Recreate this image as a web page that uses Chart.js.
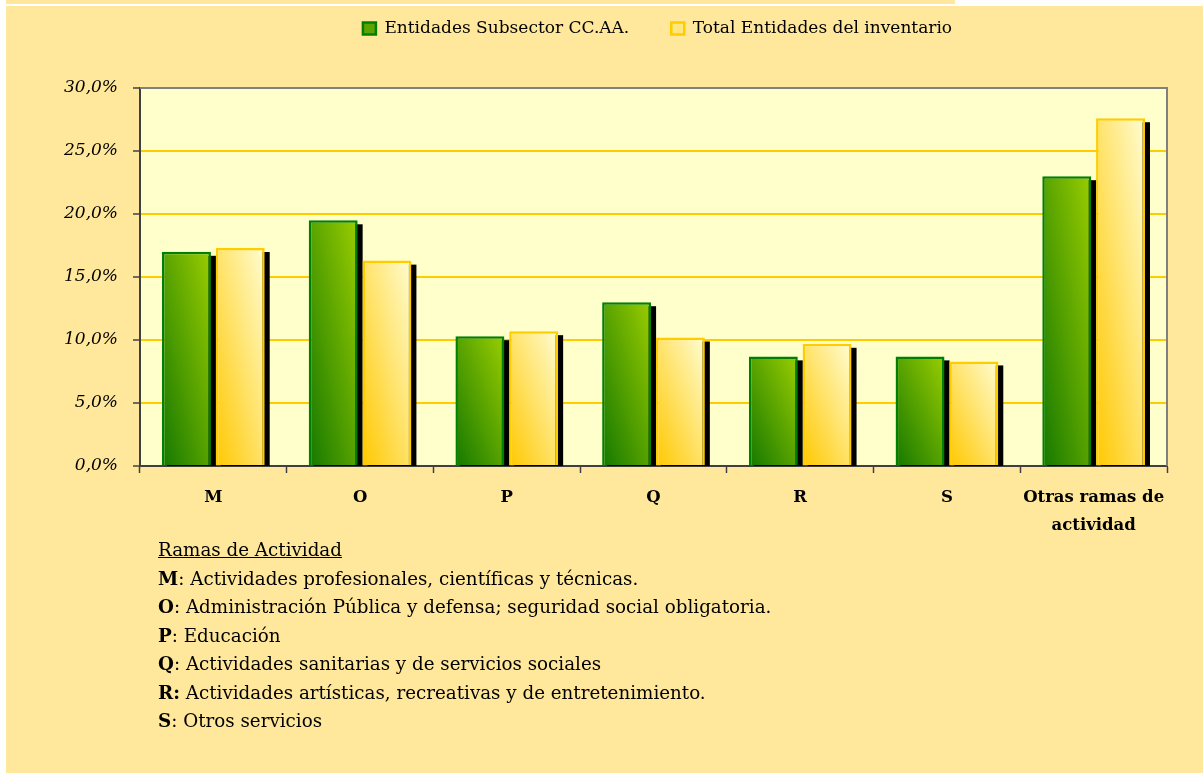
<!DOCTYPE html>
<html lang="es">
<head>
<meta charset="utf-8">
<title>Ramas de Actividad</title>
<script src="https://cdn.jsdelivr.net/npm/chart.js@4.4.1/dist/chart.umd.min.js"></script>
<style>
    body { margin: 0; background: #fff; width: 1203px; height: 773px; position: relative; overflow: hidden; font-family: "DejaVu Serif", serif; }
    .strip { position: absolute; left: 6px; top: 0; width: 949px; height: 4px; background: #FFE89B; }
    .panel { position: absolute; left: 6px; top: 6px; width: 1197px; height: 767px; background: #FFE89B; }
    #chart { position: absolute; left: 0; top: 0; }
    .notes { position: absolute; left: 158px; top: 536px; font-size: 18.3px; line-height: 28.5px; color: #000; }
</style>
</head>
<body>
<div class="strip"></div>
<div class="panel"></div>
<canvas id="chart" width="1203" height="560"></canvas>
<div class="notes">
    <div><u>Ramas de Actividad</u></div>
    <div><b>M</b>: Actividades profesionales, científicas y técnicas.</div>
    <div><b>O</b>: Administración Pública y defensa; seguridad social obligatoria.</div>
    <div><b>P</b>: Educación</div>
    <div><b>Q</b>: Actividades sanitarias y de servicios sociales</div>
    <div><b>R:</b> Actividades artísticas, recreativas y de entretenimiento.</div>
    <div><b>S</b>: Otros servicios</div>
</div>
<script>
const categories = ['M', 'O', 'P', 'Q', 'R', 'S', ['Otras ramas de', 'actividad']];
const seriesNames = ['Entidades Subsector CC.AA.', 'Total Entidades del inventario'];
const subsectorCCAA = [17.0, 19.5, 10.3, 13.0, 8.7, 8.7, 23.0];
const totalInventario = [17.3, 16.3, 10.7, 10.2, 9.7, 8.3, 27.6];
const yMax = 30;
const yStep = 5;

// colores del degradado de cada serie (abajo-izq -> arriba-der)
const gradients = [['#157800', '#9ACD00'], ['#FFC800', '#FFFDD2']];

Chart.defaults.font.family = '"DejaVu Serif", serif';
Chart.defaults.color = '#000';

// degradado diagonal por barra + sombra negra
const barGradient = {
    id: 'barGradient',
    afterDatasetsUpdate(chart) {
        const ctx = chart.ctx;
        chart.data.datasets.forEach((ds, i) => {
            chart.getDatasetMeta(i).data.forEach(bar => {
                const w = bar.width, h = bar.base - bar.y;
                const left = bar.x - w / 2;
                const len = Math.hypot(w, h) || 1;
                const d = 2 * w * h / len;
                const g = ctx.createLinearGradient(left, bar.base, left + h / len * d, bar.base - w / len * d);
                g.addColorStop(0, gradients[i][0]);
                g.addColorStop(1, gradients[i][1]);
                bar.options = Object.assign({}, bar.options, { backgroundColor: g });
            });
        });
    },
    beforeDatasetsDraw(chart) {
        const { ctx, chartArea: a } = chart;
        ctx.save();
        ctx.beginPath();
        ctx.rect(a.left, a.top, a.right - a.left, a.bottom - a.top);
        ctx.clip();
        ctx.fillStyle = '#000';
        chart.data.datasets.forEach((ds, i) => {
            chart.getDatasetMeta(i).data.forEach(bar => {
                ctx.fillRect(bar.x - bar.width / 2 + 5, bar.y + 4, bar.width, bar.base - bar.y);
            });
        });
        ctx.restore();
    }
};

// fondo del area de trazado y borde superior/derecho
const plotFrame = {
    id: 'plotFrame',
    beforeDraw(chart) {
        const { ctx, chartArea: a } = chart;
        ctx.save();
        ctx.fillStyle = '#FFFFCC';
        ctx.fillRect(a.left, a.top, a.right - a.left, a.bottom - a.top);
        ctx.restore();
    },
    afterDraw(chart) {
        const { ctx, chartArea: a } = chart;
        ctx.save();
        ctx.strokeStyle = '#808080';
        ctx.lineWidth = 2;
        ctx.beginPath();
        ctx.moveTo(a.left, a.top);
        ctx.lineTo(a.right, a.top);
        ctx.lineTo(a.right, a.bottom);
        ctx.stroke();
        ctx.restore();
    }
};

// altura y posicion de la leyenda
const legendSpacing = {
    id: 'legendSpacing',
    beforeLayout(chart) {
        if (!chart.legend || chart.legend._fixed) return;
        const fit = chart.legend.fit;
        chart.legend.fit = function () {
            fit.call(this);
            this.height = 78;
        };
        chart.legend._fixed = true;
    },
    afterLayout(chart) {
        chart.legend.left += 74;
        chart.legend.right += 74;
        chart.legend.top -= 32;
        chart.legend.bottom -= 32;
    }
};

new Chart(document.getElementById('chart'), {
    type: 'bar',
    data: {
        labels: categories,
        datasets: [{
            label: seriesNames[0],
            data: subsectorCCAA,
            backgroundColor: '#5FA300',
            borderColor: '#008000',
            borderWidth: 2.5,
            clip: 0
        }, {
            label: seriesNames[1],
            data: totalInventario,
            backgroundColor: '#FFE680',
            borderColor: '#FFCC00',
            borderWidth: 2.5,
            clip: 0
        }]
    },
    options: {
        responsive: false,
        animation: false,
        events: [],
        categoryPercentage: 0.733,
        barPercentage: 0.91,
        layout: { padding: { top: 10, left: 0, right: 36, bottom: 0 } },
        scales: {
            x: {
                afterFit: s => { s.height = 94; },
                grid: { offset: true, drawOnChartArea: false, tickLength: 7, tickColor: '#404040', tickWidth: 1.5 },
                border: { color: '#404040', width: 2 },
                ticks: {
                    autoSkip: false,
                    maxRotation: 0,
                    minRotation: 0,
                    padding: 11,
                    font: { size: 16.5, weight: 'bold', lineHeight: 1.7 }
                }
            },
            y: {
                min: 0,
                max: yMax,
                afterFit: s => { s.width = 140; },
                grid: { color: '#FFCC00', lineWidth: 2, tickLength: 7, tickColor: '#404040', tickWidth: 1.5 },
                border: { color: '#404040', width: 2 },
                ticks: {
                    stepSize: yStep,
                    padding: 15,
                    font: { size: 17, style: 'italic' },
                    callback: v => v.toFixed(1).replace('.', ',') + '%'
                }
            }
        },
        plugins: {
            legend: {
                labels: { boxWidth: 13, boxHeight: 12, padding: 42, font: { size: 17 } }
            },
            tooltip: { enabled: false }
        }
    },
    plugins: [barGradient, plotFrame, legendSpacing]
});
</script>
</body>
</html>
